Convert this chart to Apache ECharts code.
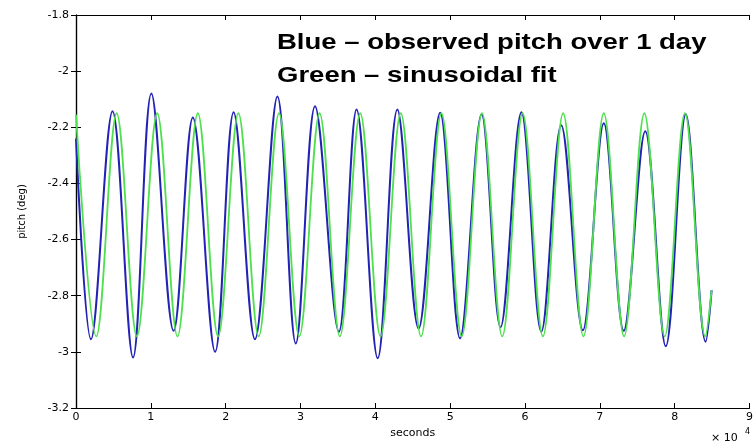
<!DOCTYPE html>
<html>
<head>
<meta charset="utf-8">
<script src="https://cdn.jsdelivr.net/npm/echarts@6/dist/echarts.min.js"></script>
<style>html,body{margin:0;padding:0;background:#fff}#c{width:756px;height:444px}</style>
</head>
<body>
<div id="c"></div>
<script>
// time in units of 1e4 seconds (extrema and end points)
const blueT = [0, 0.200, 0.488, 0.762, 1.007, 1.304, 1.561, 1.859, 2.106, 2.391, 2.692, 2.937, 3.194, 3.513, 3.749, 4.032, 4.294, 4.578, 4.866, 5.132, 5.420, 5.673, 5.952, 6.218, 6.484, 6.773, 7.053, 7.319, 7.607, 7.881, 8.148, 8.414, 8.494];
const blueV = [-2.24, -2.955, -2.143, -3.02, -2.08, -2.925, -2.165, -3.0, -2.146, -2.955, -2.09, -2.97, -2.125, -2.928, -2.137, -3.023, -2.137, -2.917, -2.148, -2.952, -2.154, -2.912, -2.146, -2.928, -2.193, -2.923, -2.186, -2.925, -2.214, -2.98, -2.154, -2.964, -2.78];
const greenT = [0, 0.271, 0.543, 0.814, 1.085, 1.356, 1.628, 1.899, 2.170, 2.441, 2.713, 2.984, 3.255, 3.526, 3.798, 4.069, 4.340, 4.611, 4.883, 5.154, 5.425, 5.696, 5.968, 6.239, 6.510, 6.781, 7.053, 7.324, 7.595, 7.866, 8.138, 8.409, 8.494];
const greenV = [-2.155, -2.945, -2.15, -2.945, -2.15, -2.945, -2.15, -2.945, -2.15, -2.945, -2.15, -2.945, -2.15, -2.945, -2.15, -2.945, -2.15, -2.945, -2.15, -2.945, -2.15, -2.945, -2.15, -2.945, -2.15, -2.945, -2.15, -2.945, -2.15, -2.945, -2.15, -2.945, -2.78];
const xTicks = {min: 0, max: 9, interval: 1};
const yTicks = {min: -3.2, max: -1.8, interval: 0.2};
const titleLines = ['Blue \u2013 observed pitch over 1 day', 'Green \u2013 sinusoidal fit'];

const pair = (t, v) => t.map((x, i) => [x, v[i]]);
const FONT = 'DejaVu Sans';
const axisCommon = {
  axisLine: {lineStyle: {color: '#000', width: 1.2}},
  axisTick: {inside: true, length: 5, lineStyle: {color: '#000'}},
  splitLine: {show: false}
};
const chart = echarts.init(document.getElementById('c'), null, {renderer: 'canvas'});
chart.setOption({
  animation: false,
  backgroundColor: '#fff',
  grid: {left: 76, right: 4, top: 15, bottom: 34},
  xAxis: [
    Object.assign({type: 'value', position: 'bottom', min: xTicks.min, max: xTicks.max, interval: xTicks.interval,
      name: 'seconds', nameLocation: 'middle', nameGap: 20,
      nameTextStyle: {fontFamily: FONT, fontSize: 11, color: '#000'},
      axisLabel: {fontFamily: FONT, fontSize: 11, color: '#000', margin: 4}}, axisCommon),
    Object.assign({type: 'value', position: 'top', min: xTicks.min, max: xTicks.max, interval: xTicks.interval,
      axisLabel: {show: false}}, axisCommon)
  ],
  yAxis: [
    Object.assign({type: 'value', position: 'left', min: yTicks.min, max: yTicks.max, interval: yTicks.interval,
      name: 'pitch (deg)', nameLocation: 'middle', nameGap: 49,
      nameTextStyle: {fontFamily: FONT, fontSize: 10, color: '#000'},
      axisLabel: {fontFamily: FONT, fontSize: 11, color: '#000', margin: 7}}, axisCommon),
    Object.assign({type: 'value', position: 'right', min: yTicks.min, max: yTicks.max, interval: yTicks.interval,
      axisLabel: {show: false}}, axisCommon)
  ],
  series: [
    {type: 'line', name: 'observed', data: pair(blueT, blueV), smooth: 0.36, showSymbol: false,
      lineStyle: {color: '#2222b4', width: 2}, z: 2},
    {type: 'line', name: 'fit', data: pair(greenT, greenV), smooth: 0.36, showSymbol: false,
      lineStyle: {color: '#4ee04e', width: 1.8}, z: 3}
  ],
  graphic: [
    {type: 'text', x: 277, y: 42.5, scaleX: 1.25, z: 10,
      style: {text: titleLines[0], font: 'bold 22px "Liberation Sans", Arial', fill: '#000', verticalAlign: 'middle'}},
    {type: 'text', x: 277, y: 75.5, scaleX: 1.25, z: 10,
      style: {text: titleLines[1], font: 'bold 22px "Liberation Sans", Arial', fill: '#000', verticalAlign: 'middle'}},
    {type: 'text', x: 711, y: 438, z: 10,
      style: {text: '\u00d7 10', font: '11px "DejaVu Sans"', fill: '#000', verticalAlign: 'middle'}},
    {type: 'text', x: 745, y: 432, z: 10,
      style: {text: '4', font: '8px "DejaVu Sans"', fill: '#000', verticalAlign: 'middle'}}
  ]
});
</script>
</body>
</html>
